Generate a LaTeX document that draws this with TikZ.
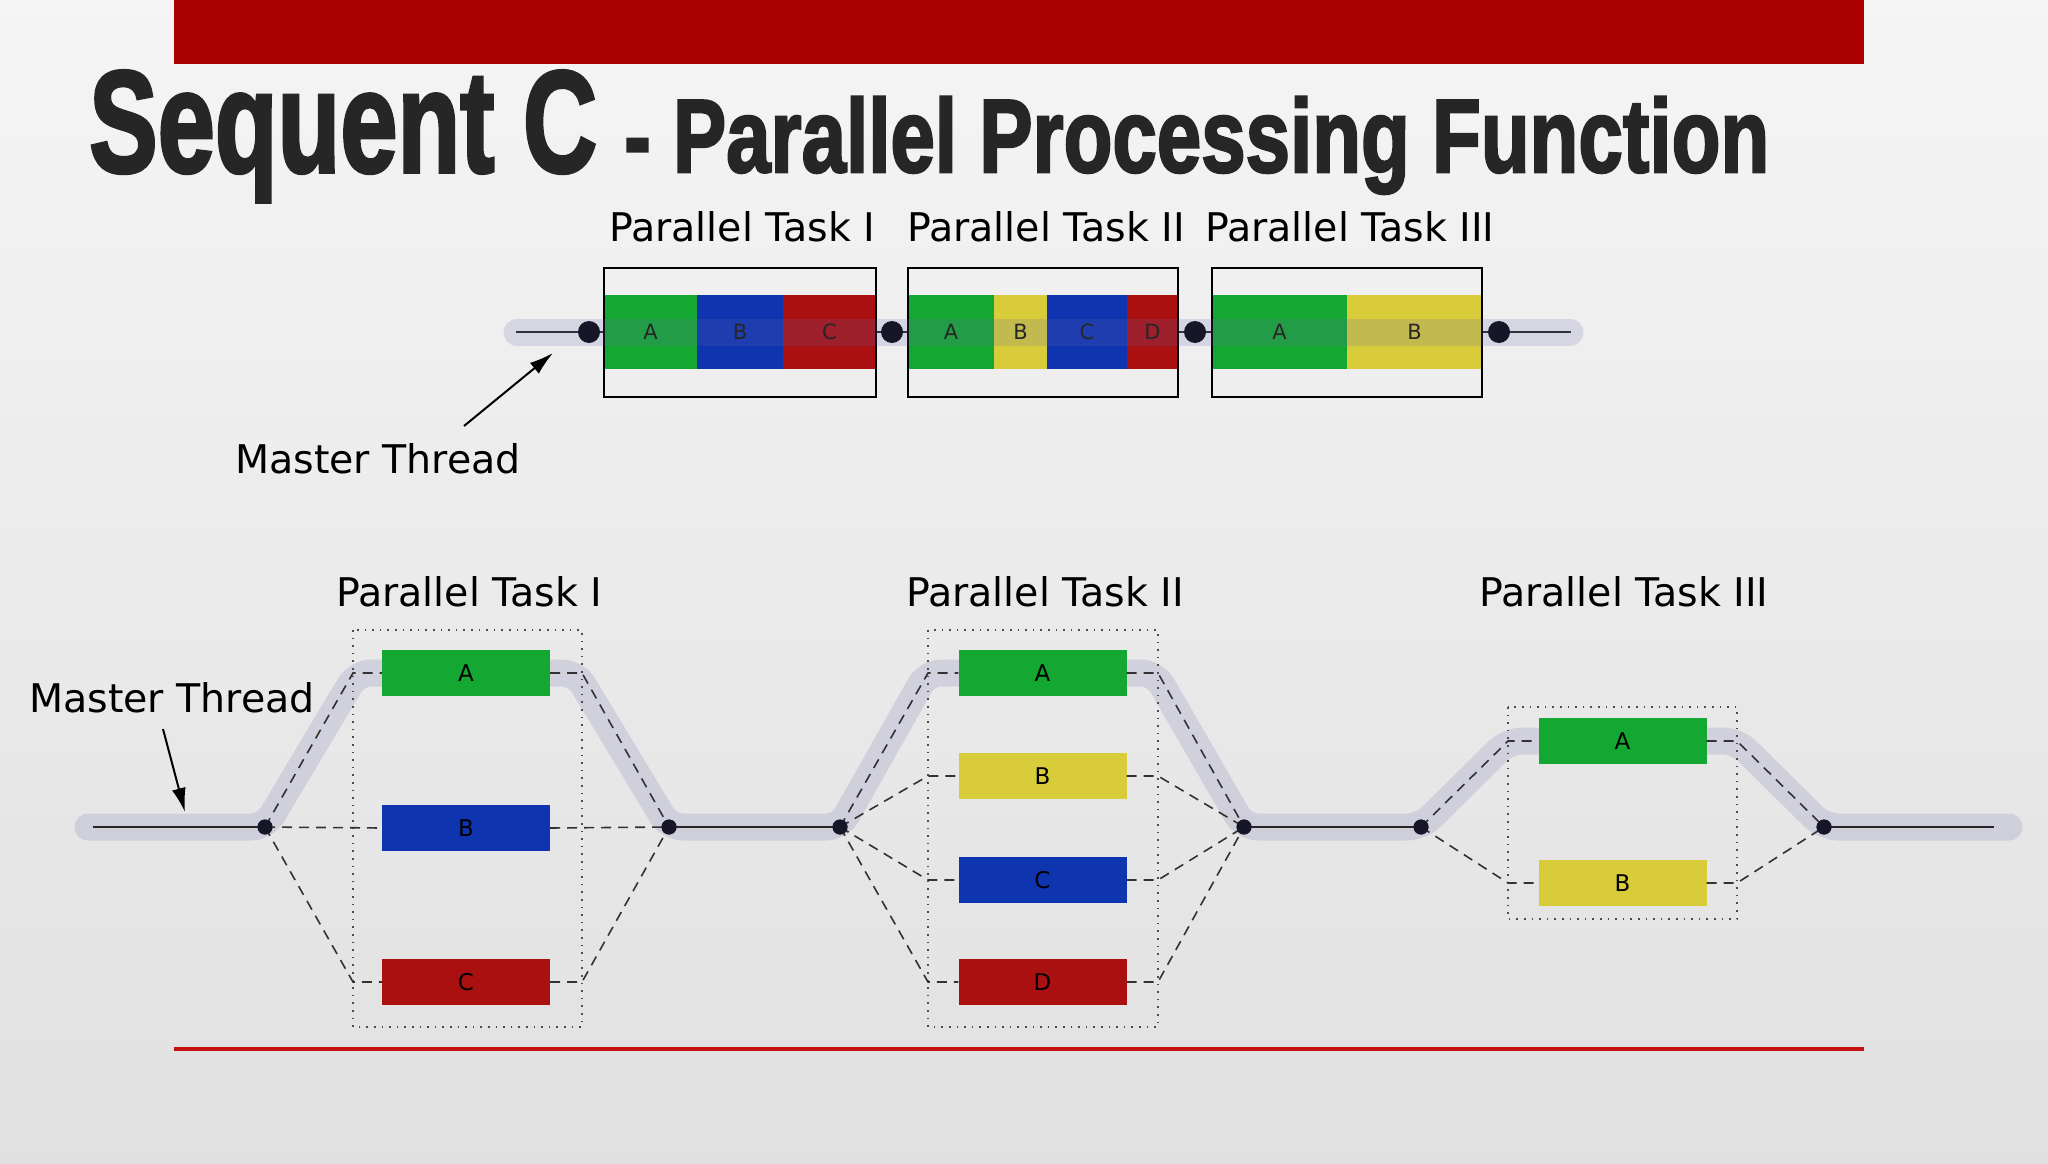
\documentclass[tikz,border=0pt]{standalone}
\usepackage{fontspec}
\usepackage{graphicx}
\setmainfont{DejaVu Sans}
\newfontfamily\titlefont[FakeBold=2.5]{Liberation Sans Bold}
\usetikzlibrary{arrows.meta}
\definecolor{barred}{RGB}{170,0,0}
\definecolor{linered}{RGB}{196,16,16}
\definecolor{titlegray}{RGB}{38,38,38}
\definecolor{cgreen}{RGB}{20,168,50}
\definecolor{cblue}{RGB}{14,52,176}
\definecolor{cred}{RGB}{170,16,16}
\definecolor{cyellow}{RGB}{216,204,58}
\definecolor{bandcol}{RGB}{105,105,175}
\definecolor{dotcol}{RGB}{22,22,40}
\definecolor{dashcol}{RGB}{50,50,50}
\tikzset{
  lbl/.style={anchor=base west, inner sep=0, text=black, font=\fontsize{39.5}{42}\selectfont},
  seg/.style={inner sep=0, minimum height=74pt, text=black!85, font=\fontsize{20}{20}\selectfont},
  tbox/.style={draw=black, line width=2pt, inner sep=0, minimum height=129pt},
  task/.style={inner sep=0, minimum width=168pt, minimum height=46pt, text=black, font=\fontsize{23}{23}\selectfont},
  bigdot/.style={circle, fill=dotcol, inner sep=0, minimum size=22pt},
  smalldot/.style={circle, fill=dotcol, inner sep=0, minimum size=15pt},
  band/.style={draw=bandcol, draw opacity=0.18, line width=27pt, line cap=round, line join=round},
  thin/.style={draw=black!85, line width=2pt},
  dsh/.style={draw=dashcol, line width=1.6pt, dash pattern=on 10pt off 7pt},
  dotbox/.style={draw=black!70, line width=1.6pt, dash pattern=on 1.6pt off 6pt},
  marrow/.style={draw=black, line width=2pt, -{Latex[length=24pt,width=14pt]}}
}
\begin{document}
\begin{tikzpicture}[x=1pt,y=-1pt]
\useasboundingbox (0,0) rectangle (2048,1164);
\shade[top color=white!96!black, bottom color=white!88!black] (0,0) rectangle (2048,1164);
% title bar and line
\fill[barred] (174,0) rectangle (1864,64);
\draw[linered, line width=4pt] (174,1049) -- (1864,1049);
% title
\node[anchor=base west, inner sep=0, text=titlegray] (t1) at (89,172)
  {\resizebox{508pt}{\height}{\titlefont\fontsize{145}{145}\selectfont Sequent C}};
\node[anchor=base west, inner sep=0, text=titlegray] (t2) at (624,172)
  {\resizebox{1145pt}{\height}{\titlefont\fontsize{104}{104}\selectfont - Parallel Processing Function}};

% ================= top diagram =================
\node[lbl] (tl1) at (609,241) {Parallel Task I};
\node[lbl] (tl2) at (907,241) {Parallel Task II};
\node[lbl] (tl3) at (1205,241) {Parallel Task III};
\node[lbl] (tmt) at (235,473) {Master Thread};

\coordinate (tstart) at (516,332);
\coordinate (tend) at (1571,332);
\draw[thin] (tstart) -- (tend);

\node[seg, fill=cgreen, minimum width=93pt] (s1a) at (650.5,332) {};
\node[seg, fill=cblue, minimum width=86pt] (s1b) at (740,332) {};
\node[seg, fill=cred, minimum width=93pt] (s1c) at (829.5,332) {};
\node[seg, fill=cgreen, minimum width=86pt] (s2a) at (951,332) {};
\node[seg, fill=cyellow, minimum width=53pt] (s2b) at (1020.5,332) {};
\node[seg, fill=cblue, minimum width=80pt] (s2c) at (1087,332) {};
\node[seg, fill=cred, minimum width=51pt] (s2d) at (1152.5,332) {};
\node[seg, fill=cgreen, minimum width=135pt] (s3a) at (1279.5,332) {};
\node[seg, fill=cyellow, minimum width=135pt] (s3b) at (1414.5,332) {};

\node[tbox, minimum width=272pt] (tb1) at (740,332.5) {};
\node[tbox, minimum width=270pt] (tb2) at (1043,332.5) {};
\node[tbox, minimum width=270pt] (tb3) at (1347,332.5) {};

\coordinate (bstart) at (517,332);
\coordinate (bend) at (1570,332);
\draw[band] (bstart) -- (bend);

\node[bigdot] (td1) at (589,332) {};
\node[bigdot] (td2) at (892,332) {};
\node[bigdot] (td3) at (1195,332) {};
\node[bigdot] (td4) at (1499,332) {};

\foreach \n/\t in {s1a/A,s1b/B,s1c/C,s2a/A,s2b/B,s2c/C,s2d/D,s3a/A,s3b/B}
  \node[seg, font=\fontsize{21}{21}\selectfont] at (\n.center) {\t};

\coordinate (ta0) at (464,426);
\coordinate (ta1) at (553,353);
\draw[marrow] (ta0) -- (ta1);

% ================= bottom diagram =================
\node[lbl] (bl1) at (336,606) {Parallel Task I};
\node[lbl] (bl2) at (906,606) {Parallel Task II};
\node[lbl] (bl3) at (1479,606) {Parallel Task III};
\node[lbl] (bmt) at (29,712) {Master Thread};

\draw[band, rounded corners=14pt] (88,827) -- (265,827) -- (357,673) -- (576,673) -- (669,827)
  -- (840,827) -- (927,673) -- (1155,673) -- (1244,827)
  -- (1421,827) -- (1508,741) -- (1737,741) -- (1824,827) -- (2009,827);

\draw[dotbox] (353,630) rectangle (582,1027);
\draw[dotbox] (928,630) rectangle (1158,1027);
\draw[dotbox] (1508,707) rectangle (1737,919);

\node[smalldot] (d1) at (265,827) {};
\node[smalldot] (d2) at (669,827) {};
\node[smalldot] (d3) at (840,827) {};
\node[smalldot] (d4) at (1244,827) {};
\node[smalldot] (d5) at (1421,827) {};
\node[smalldot] (d6) at (1824,827) {};
\coordinate (m0) at (93,827);
\coordinate (m1) at (1994,827);
\draw[thin] (m0) -- (d1.center);
\draw[thin] (d2.center) -- (d3.center);
\draw[thin] (d4.center) -- (d5.center);
\draw[thin] (d6.center) -- (m1);

% Task I
\node[task, fill=cgreen] (p1a) at (466,673) {A};
\node[task, fill=cblue] (p1b) at (466,828) {B};
\node[task, fill=cred] (p1c) at (466,982) {C};
% Task II
\node[task, fill=cgreen] (p2a) at (1042.5,673) {A};
\node[task, fill=cyellow] (p2b) at (1042.5,776) {B};
\node[task, fill=cblue] (p2c) at (1042.5,880) {C};
\node[task, fill=cred] (p2d) at (1042.5,982) {D};
% Task III
\node[task, fill=cgreen] (p3a) at (1622.5,741) {A};
\node[task, fill=cyellow] (p3b) at (1622.5,883) {B};

% dashed connectors
\draw[dsh] (d1.center) -- (353,673) -- (p1a.west);
\draw[dsh] (d1.center) -- (p1b.west);
\draw[dsh] (d1.center) -- (353,982) -- (p1c.west);
\draw[dsh] (p1a.east) -- (582,673) -- (d2.center);
\draw[dsh] (p1b.east) -- (d2.center);
\draw[dsh] (p1c.east) -- (582,982) -- (d2.center);

\foreach \n/\y in {p2a/673,p2b/776,p2c/880,p2d/982}{
  \draw[dsh] (d3.center) -- (928,\y) -- (\n.west);
  \draw[dsh] (\n.east) -- (1158,\y) -- (d4.center);
}
\foreach \n/\y in {p3a/741,p3b/883}{
  \draw[dsh] (d5.center) -- (1508,\y) -- (\n.west);
  \draw[dsh] (\n.east) -- (1737,\y) -- (d6.center);
}
\node[smalldot] at (d1) {};
\node[smalldot] at (d2) {};
\node[smalldot] at (d3) {};
\node[smalldot] at (d4) {};
\node[smalldot] at (d5) {};
\node[smalldot] at (d6) {};

\coordinate (ba0) at (163,729);
\coordinate (ba1) at (185,812);
\draw[marrow] (ba0) -- (ba1);
\end{tikzpicture}
\end{document}
